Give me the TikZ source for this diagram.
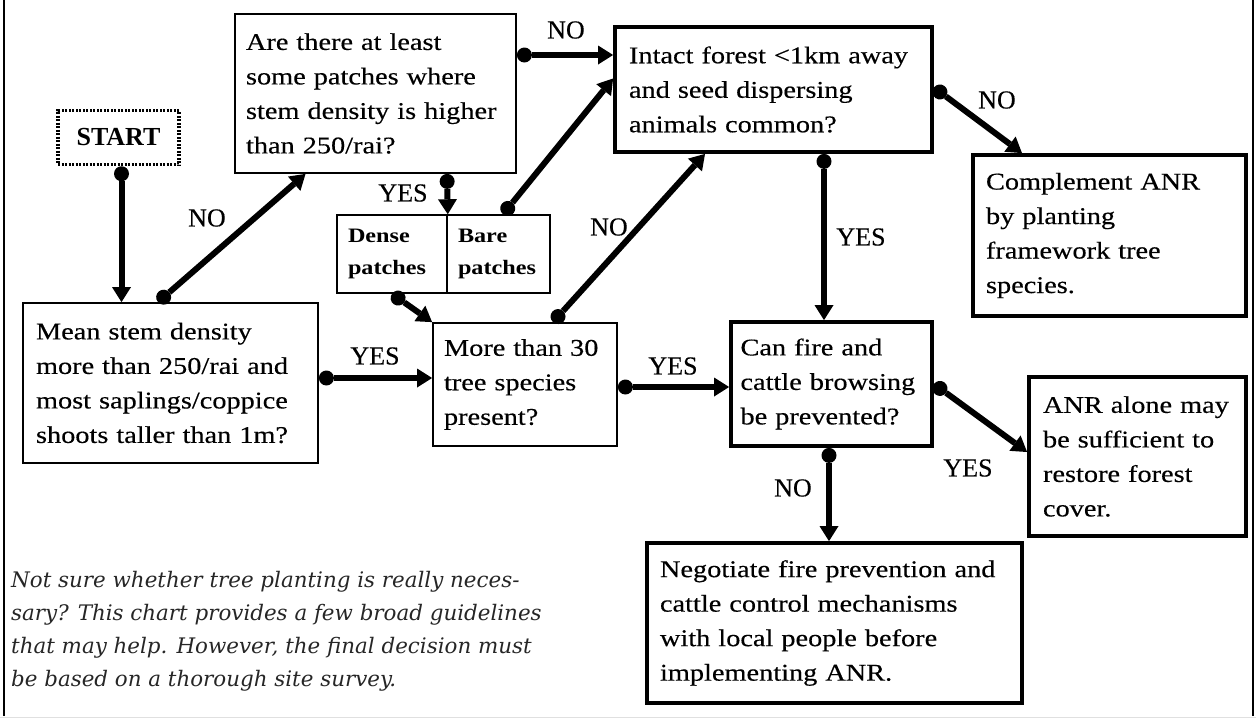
\documentclass[tikz,border=0pt]{standalone}
\usepackage{fontspec}
\setmainfont{Liberation Serif}[FakeStretch=1.18, UprightFeatures={FakeBold=0.35}]
\newfontfamily\labfont{Liberation Serif}[UprightFeatures={FakeBold=0.3}]
\newfontfamily\notefont{DejaVu Serif}
\usetikzlibrary{arrows.meta,calc}
\tikzset{
  box/.style={draw, line width=1.8pt, align=left, inner xsep=13pt, inner ysep=0pt,
    font=\fontsize{24}{34.5}\selectfont, anchor=center},
  tbox/.style={box, line width=3.8pt},
  patch/.style={draw, line width=1.5pt, align=left, inner xsep=12pt, inner ysep=0pt,
    font=\bfseries\fontsize{20.5}{32.5}\selectfont, anchor=center},
  arr/.style={line width=6pt, {Circle[length=15pt,line width=0pt]}-{Triangle[length=15pt,width=19pt,line width=0pt]}},
  lab/.style={font=\labfont\fontsize{26}{28}\selectfont, inner sep=0pt},
  note/.style={font=\notefont\itshape\fontsize{21.4}{33}\selectfont, text=black!85, align=left, inner sep=0pt, anchor=north west},
  frame/.style={line width=2.5pt},
}
\begin{document}
\begin{tikzpicture}[x=1pt,y=-1pt]
\useasboundingbox (0,0) rectangle (1256,718);
\draw[frame] (4,0) -- (4,716);
\draw[frame] (1253,0) -- (1253,716);
\draw[black!12, line width=1pt] (0,717) -- (1256,717);

% boxes
\node[draw, line width=3.5pt, dash pattern=on 2pt off 1.5pt, minimum width=121pt, minimum height=54pt,
  font=\labfont\bfseries\fontsize{26}{28}\selectfont] (start) at (118.5,137.5) {START};
\node[box, minimum width=281pt, minimum height=159pt, text width=259pt, inner xsep=11pt] (q2) at (375.5,93.5)
  {Are there at least\\some patches where\\stem density is higher\\than 250/rai?};
\node[tbox, minimum width=317pt, minimum height=125pt, text width=289pt, inner xsep=14pt] (intact) at (773.5,89.5)
  {Intact forest <1km away\\and seed dispersing\\animals common?};
\node[tbox, minimum width=273pt, minimum height=161pt, text width=247pt, inner xsep=13pt] (compl) at (1109.5,235.5)
  {Complement ANR\\by planting\\framework tree\\species.};
\node[patch, minimum width=110pt, minimum height=78pt, text width=88pt, inner xsep=11pt] (dense) at (392,254)
  {Dense\\patches};
\node[patch, minimum width=103pt, minimum height=78pt, text width=81pt, inner xsep=11pt] (bare) at (498.5,254)
  {Bare\\patches};
\node[box, minimum width=295pt, minimum height=160pt, text width=269pt] (mean) at (170.5,383)
  {Mean stem density\\more than 250/rai and\\most saplings/coppice\\shoots taller than 1m?};
\node[box, minimum width=184pt, minimum height=123pt, text width=162pt, inner xsep=11pt] (m30) at (525,384.5)
  {More than 30\\tree species\\present?};
\node[tbox, minimum width=201pt, minimum height=124pt, text width=182pt, inner xsep=9.5pt] (fire) at (831.5,384)
  {Can fire and\\cattle browsing\\be prevented?};
\node[tbox, minimum width=217pt, minimum height=159pt, text width=189pt, inner xsep=14pt] (anr) at (1137.5,456.5)
  {ANR alone may\\be sufficient to\\restore forest\\cover.};
\node[tbox, minimum width=375pt, minimum height=160pt, text width=349pt] (nego) at (834.5,623)
  {Negotiate fire prevention and\\cattle control mechanisms\\with local people before\\implementing ANR.};

\node[note] (txt) at (11,571)
  {Not sure whether tree planting is really neces-\\sary? This chart provides a few broad guidelines\\that may help. However, the final decision must\\be based on a thorough site survey.};

% connectors
\draw[arr] ([xshift=3pt]start.south) -- ([xshift=3pt]start.south |- mean.north);
\draw[arr] ([xshift=-12.5pt]mean.north) -- ([xshift=-70pt]q2.south);
\draw[arr] ([yshift=5pt]mean.east) -- ([yshift=5pt]mean.east -| m30.west);
\draw[arr] ([yshift=38.5pt]q2.east) -- ([yshift=38.5pt]q2.east -| intact.west);
\draw[arr] ([xshift=71.5pt]q2.south) -- (dense.north east);
\draw[arr] ([xshift=4.5pt]bare.north) -- ([yshift=11pt]intact.west);
\draw[arr] (dense.south) -- (m30.north west);
\draw[arr] ([xshift=28pt]m30.north) -- ([xshift=-68.5pt]intact.south);
\draw[arr] ([yshift=-2.5pt]m30.east) -- ([yshift=-2.5pt]m30.east -| fire.west);
\draw[arr] ([xshift=50.5pt]intact.south) -- ([xshift=50.5pt]intact.south |- fire.north);
\draw[arr] ([yshift=2pt]intact.east) -- ([xshift=-87.5pt]compl.north);
\draw[arr] (fire.east) -- ([yshift=4.5pt]anr.west);
\draw[arr] ([xshift=-2.5pt]fire.south) -- ([xshift=-2.5pt]fire.south |- nego.north);

% labels
\node[lab] (l1) at (207,218) {NO};
\node[lab] (l2) at (375,356) {YES};
\node[lab] (l3) at (566,30) {NO};
\node[lab] (l4) at (403,193) {YES};
\node[lab] (l5) at (609,227) {NO};
\node[lab] (l6) at (673,366) {YES};
\node[lab] (l7) at (861,237) {YES};
\node[lab] (l8) at (997,100) {NO};
\node[lab] (l9) at (968,468) {YES};
\node[lab] (l10) at (793,488) {NO};
\end{tikzpicture}
\end{document}
